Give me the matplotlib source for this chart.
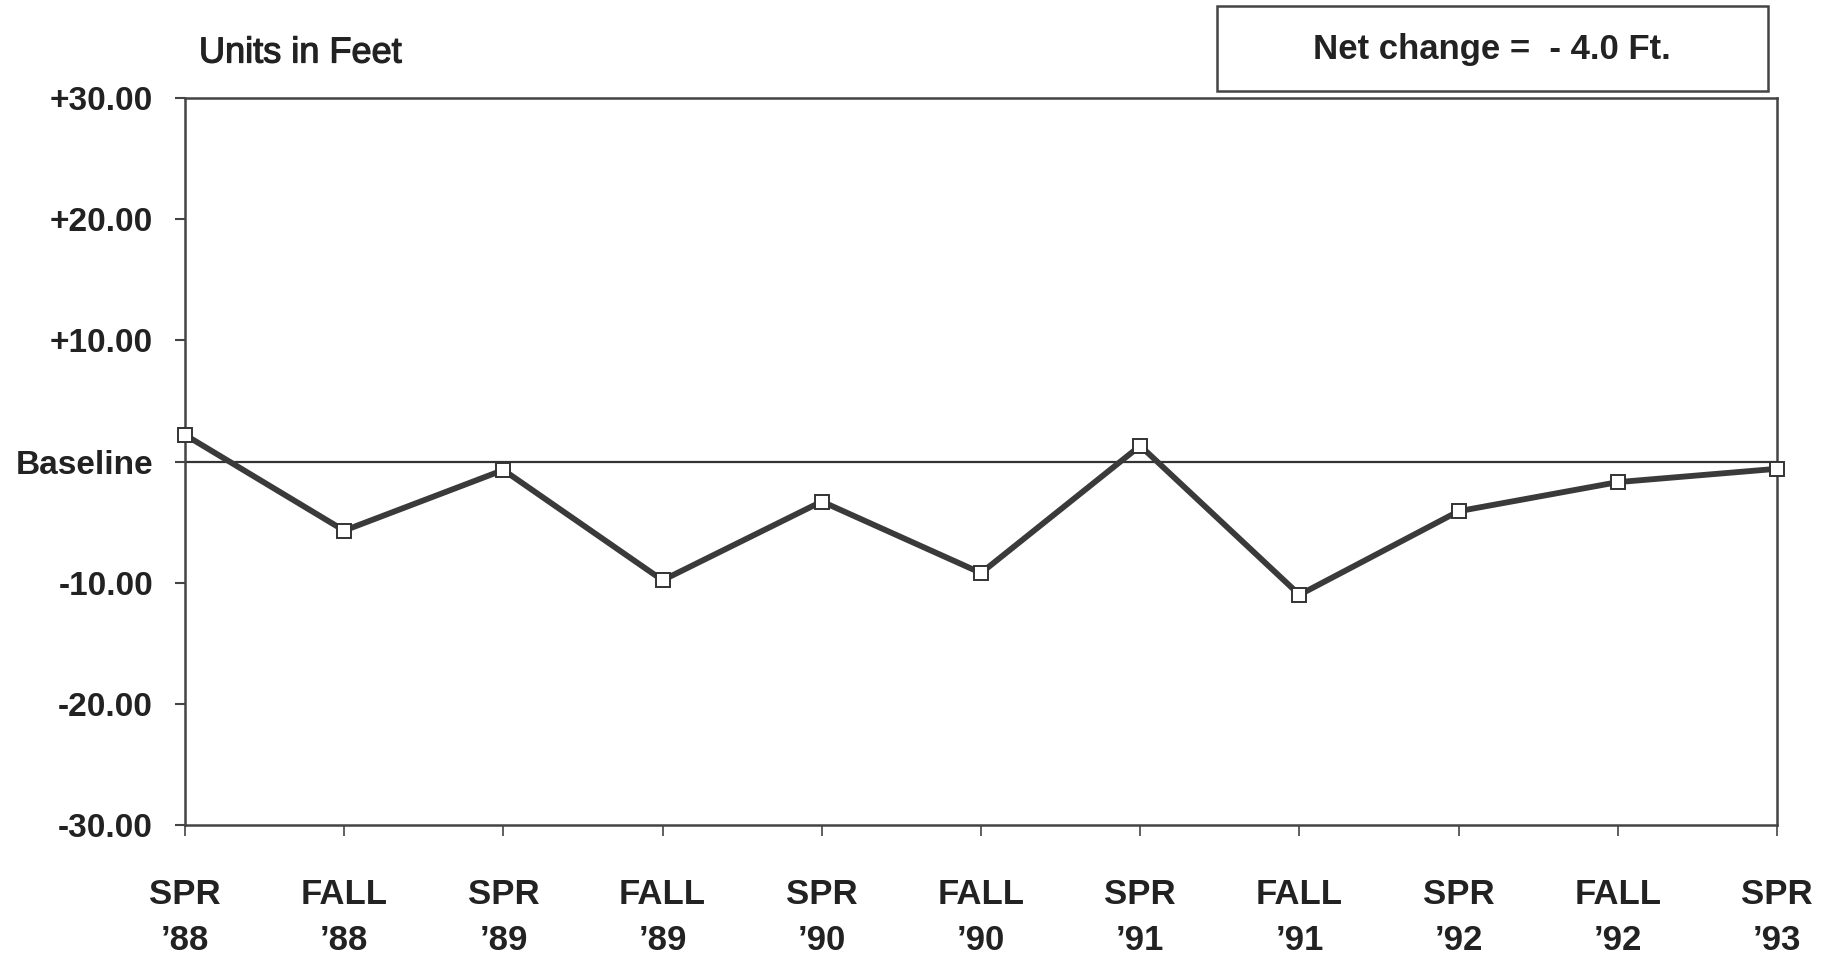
import matplotlib.pyplot as plt
import matplotlib.patheffects as pe

# data
seasons = ["SPR", "FALL", "SPR", "FALL", "SPR", "FALL", "SPR", "FALL", "SPR", "FALL", "SPR"]
years = ["’88", "’88", "’89", "’89", "’90", "’90", "’91", "’91", "’92", "’92", "’93"]
change_ft = [2.2, -5.7, -0.7, -9.8, -3.3, -9.2, 1.3, -11.0, -4.1, -1.7, -0.6]
y_ticks = [30, 20, 10, 0, -10, -20, -30]
y_labels = ["+30.00", "+20.00", "+10.00", "Baseline", "-10.00", "-20.00", "-30.00"]

plt.rcParams["font.family"] = ["Liberation Sans", "DejaVu Sans"]

fig = plt.figure(figsize=(18.33, 9.58), dpi=100)
ax = fig.add_axes([0.1009, 0.1388, 0.8686, 0.7589])

x = list(range(len(change_ft)))
ax.axhline(0, color="#333333", lw=1.6, zorder=1)
ax.plot(x, change_ft, color="#3a3a3a", lw=4.2, marker="s", markersize=10,
        markerfacecolor="white", markeredgecolor="#333333", markeredgewidth=1.4,
        zorder=3, clip_on=False)

ax.set_xlim(0, len(change_ft) - 1)
ax.set_ylim(-30, 30)
ax.set_yticks(y_ticks)
ax.set_yticklabels(y_labels, fontweight="bold", fontsize=24, color="#222222")
ax.set_xticks(x)
ax.set_xticklabels([s + "\n" + yr for s, yr in zip(seasons, years)],
                   fontweight="bold", fontsize=25, color="#222222", linespacing=1.5)
ax.tick_params(axis="y", direction="out", length=7, width=1.5, pad=16, color="#444444")
ax.tick_params(axis="x", direction="out", length=8, width=1.2, pad=30, color="#444444")
for sp in ax.spines.values():
    sp.set_color("#444444")
    sp.set_linewidth(1.8)

fig.text(199 / 1833, 1 - 53 / 958, "Units in Feet", fontsize=26, ha="left", va="center",
         color="#222222", path_effects=[pe.withStroke(linewidth=0.9, foreground="#222222")])
fig.text(1492 / 1833, 1 - 50 / 958, "Net change =  - 4.0 Ft.",
         fontweight="bold", fontsize=25, ha="center", va="center", color="#222222")
box = plt.Rectangle((1217 / 1833, 1 - 91 / 958), 551 / 1833, 85 / 958,
                    transform=fig.transFigure, fill=False, edgecolor="#444444", lw=1.8)
fig.add_artist(box)

fig.savefig("out.png", dpi=100)
